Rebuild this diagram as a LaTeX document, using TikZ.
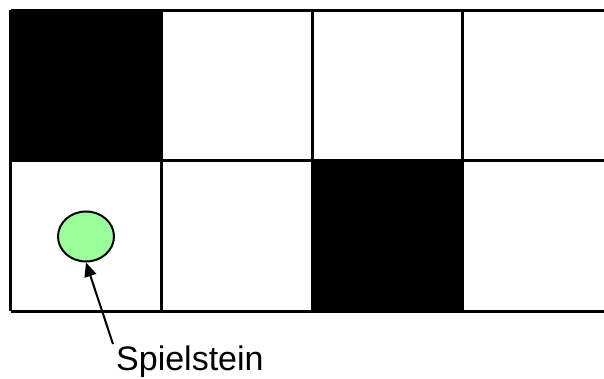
\documentclass[tikz,border=0pt]{standalone}
\usepackage{fontspec}
\setmainfont{Liberation Sans}
\usepackage{tikz}
\usetikzlibrary{calc, shapes.geometric, positioning, arrows.meta}

\begin{document}
\begin{tikzpicture}[>=Triangle, x=1pt, y=-1pt]

    \useasboundingbox (0,0) rectangle (604,379);

    % =================================================================
    % SPIELFELD: 2 ZEILEN, 4 SPALTEN (RECHTS ABGESCHNITTEN)
    % =================================================================
    \begin{scope}
        % Schwarze Felder
        \fill[black] (10.5,10.5) rectangle (161,160.5);
        \fill[black] (312,160.5) rectangle (462,311);

        % Waagrechte Linien
        \foreach \y in {10.5, 160.5, 311}
            \draw[line width=3pt] (10.5,\y) -- (606,\y);

        % Senkrechte Linien
        \foreach \x in {10.5, 161, 312, 462}
            \draw[line width=3pt] (\x,10.5) -- (\x,311);
    \end{scope}

    % Spielstein
    \node[ellipse, draw, line width=2pt, fill=green!40,
          minimum width=56, minimum height=50, inner sep=0pt] (stein) at (86,236.5) {};

    % Beschriftung mit Pfeil
    \node[anchor=base west, font=\fontsize{34}{40}\selectfont, inner sep=0pt] (label) at (116,370) {Spielstein};
    \coordinate (fuss) at (113,344);
    \draw[->, line width=2pt, >={Triangle[length=14pt, width=12pt]}] (fuss) -- (stein.south);

\end{tikzpicture}
\end{document}
